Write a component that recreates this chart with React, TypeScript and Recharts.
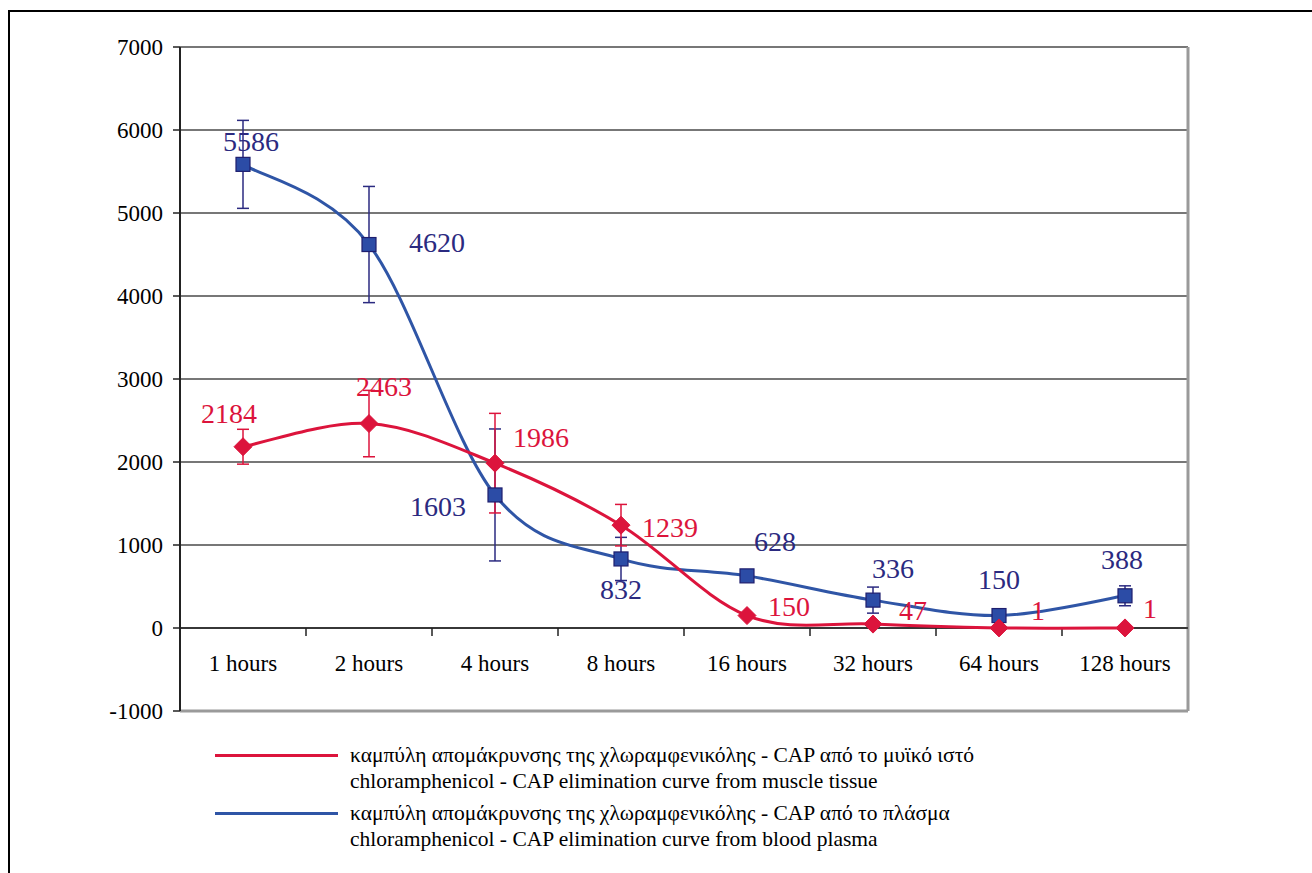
import React from 'react';
import {
  LineChart,
  Line,
  XAxis,
  YAxis,
  CartesianGrid,
  ErrorBar,
  ReferenceLine,
  ReferenceDot,
  LabelList,
} from 'recharts';

// ---------- data ----------
const categories = ['1 hours', '2 hours', '4 hours', '8 hours', '16 hours', '32 hours', '64 hours', '128 hours'];
const muscleValues = [2184, 2463, 1986, 1239, 150, 47, 1, 1];
const muscleErrors = [210, 400, 600, 250, 0, 0, 0, 0];
const plasmaValues = [5586, 4620, 1603, 832, 628, 336, 150, 388];
const plasmaErrors = [530, 700, 795, 260, 0, 157, 0, 120];
const yTicks = [-1000, 0, 1000, 2000, 3000, 4000, 5000, 6000, 7000];
const muscleLegend = [
  'καμπύλη απομάκρυνσης της χλωραμφενικόλης - CAP από το μυϊκό ιστό',
  'chloramphenicol - CAP elimination curve from muscle tissue',
];
const plasmaLegend = [
  'καμπύλη απομάκρυνσης της χλωραμφενικόλης - CAP από το πλάσμα',
  'chloramphenicol - CAP elimination curve from blood plasma',
];

// ---------- styling ----------
const FONT = 'Liberation Serif, Times New Roman, Times, serif';
const RED = '#dc143c';
const BLUE_LINE = '#2f55a6';
const BLUE_TEXT = '#2b2a80';
const BLUE_FILL = '#2c4ca6';
const BLUE_EDGE = '#1e1e6e';

// label offsets (dx, dy) of each data label from its marker
const plasmaLabelOffsets: [number, number][] = [
  [8, -23], [68, -2], [-57, 12], [0, 31], [28, -34], [20, -32], [0, -36], [-3, -36],
];
const muscleLabelOffsets: [number, number][] = [
  [-14, -33], [15, -37], [46, -26], [49, 2], [42, -9], [40, -14], [39, -17], [25, -19],
];

const data = categories.map((c, i) => ({
  pos: i + 0.5,
  category: c,
  muscle: muscleValues[i],
  muscleErr: muscleErrors[i],
  plasma: plasmaValues[i],
  plasmaErr: plasmaErrors[i],
}));

// Excel-like smooth curve (Catmull-Rom through the points)
const smoothCurve: any = (context: any) => {
  let pts: [number, number][] = [];
  return {
    areaStart() {},
    areaEnd() {},
    lineStart() {
      pts = [];
    },
    point(x: number, y: number) {
      pts.push([+x, +y]);
    },
    lineEnd() {
      if (!pts.length) return;
      context.moveTo(pts[0][0], pts[0][1]);
      for (let i = 0; i < pts.length - 1; i++) {
        const p0 = pts[Math.max(i - 1, 0)];
        const p1 = pts[i];
        const p2 = pts[i + 1];
        const p3 = pts[Math.min(i + 2, pts.length - 1)];
        const c1x = p1[0] + (p2[0] - p0[0]) / 6;
        const c1y = p1[1] + (p2[1] - p0[1]) / 6;
        const c2x = p2[0] - (p3[0] - p1[0]) / 6;
        const c2y = p2[1] - (p3[1] - p1[1]) / 6;
        context.bezierCurveTo(c1x, c1y, c2x, c2y, p2[0], p2[1]);
      }
    },
  };
};

const SquareDot = (props: any) => {
  const { cx, cy, index } = props;
  if (cx == null || cy == null) return <g key={`sq${index}`} />;
  return (
    <rect
      key={`sq${index}`}
      x={cx - 7}
      y={cy - 7}
      width={14}
      height={14}
      fill={BLUE_FILL}
      stroke={BLUE_EDGE}
      strokeWidth={1.2}
    />
  );
};

const DiamondDot = (props: any) => {
  const { cx, cy, index } = props;
  if (cx == null || cy == null) return <g key={`dm${index}`} />;
  const r = 9;
  return (
    <polygon
      key={`dm${index}`}
      points={`${cx},${cy - r} ${cx + r},${cy} ${cx},${cy + r} ${cx - r},${cy}`}
      fill={RED}
      stroke={RED}
      strokeWidth={1}
    />
  );
};

const makeLabel = (offsets: [number, number][], color: string) => (props: any) => {
  const x = props.x ?? props.viewBox?.x;
  const y = props.y ?? props.viewBox?.y;
  const idx = props.index ?? 0;
  if (x == null || y == null) return null;
  const [dx, dy] = offsets[idx] || [0, 0];
  return (
    <text
      key={`lb${color}${idx}`}
      x={x + dx}
      y={y + dy}
      textAnchor="middle"
      dominantBaseline="central"
      fill={color}
      style={{ fontFamily: FONT, fontSize: 28 }}
    >
      {props.value}
    </text>
  );
};

const CategoryLabel = (label: string) => (p: any) => (
  <text
    x={p.cx}
    y={p.cy + 43}
    textAnchor="middle"
    fill="#000"
    style={{ fontFamily: FONT, fontSize: 23 }}
  >
    {label}
  </text>
);

const YTick = (p: any) => (
  <text
    x={p.x}
    y={p.y}
    textAnchor="end"
    dominantBaseline="central"
    fill="#000"
    style={{ fontFamily: FONT, fontSize: 23 }}
  >
    {p.payload?.value}
  </text>
);

const boundaries = [1, 2, 3, 4, 5, 6, 7];

export default function App() {
  return (
    <div
      style={{
        position: 'absolute',
        left: 8,
        top: 10,
        width: 1304,
        height: 863,
        borderLeft: '2px solid #000',
        borderTop: '2px solid #000',
        boxSizing: 'border-box',
        background: '#fff',
        fontFamily: FONT,
      }}
    >
      <div style={{ position: 'absolute', left: 0, top: 0 }}>
        <LineChart
          width={1200}
          height={720}
          data={data}
          margin={{ top: 35, right: 22, left: 10, bottom: 21 }}
          style={{ fontFamily: FONT }}
        >
          <CartesianGrid vertical={false} stroke="#4a4a4a" strokeWidth={1.5} />
          <XAxis type="number" dataKey="pos" domain={[0, 8]} hide />
          <YAxis
            type="number"
            domain={[-1000, 7000]}
            ticks={yTicks}
            interval={0}
            width={160}
            tickSize={7}
            tickMargin={10}
            axisLine={{ stroke: '#222', strokeWidth: 2 }}
            tickLine={{ stroke: '#222', strokeWidth: 1.5 }}
            tick={YTick}
          />
          <ReferenceLine x={8} stroke="#9a9a9a" strokeWidth={3} />
          <ReferenceLine y={-1000} stroke="#9a9a9a" strokeWidth={3} />
          <ReferenceLine y={0} stroke="#222" strokeWidth={1.5} />
          {boundaries.map((b) => (
            <ReferenceLine
              key={`tk${b}`}
              segment={[
                { x: b, y: 0 },
                { x: b, y: -95 },
              ]}
              stroke="#222"
              strokeWidth={1.5}
            />
          ))}
          {data.map((d) => (
            <ReferenceDot
              key={`cat${d.category}`}
              x={d.pos}
              y={0}
              r={0}
              shape={CategoryLabel(d.category)}
            />
          ))}
          <Line
            dataKey="plasma"
            type={smoothCurve}
            stroke={BLUE_LINE}
            strokeWidth={3}
            dot={SquareDot}
            activeDot={false}
            isAnimationActive={false}
          >
            <ErrorBar dataKey="plasmaErr" direction="y" width={6} stroke={BLUE_TEXT} strokeWidth={1.5} />
            <LabelList dataKey="plasma" content={makeLabel(plasmaLabelOffsets, BLUE_TEXT)} />
          </Line>
          <Line
            dataKey="muscle"
            type={smoothCurve}
            stroke={RED}
            strokeWidth={3}
            dot={DiamondDot}
            activeDot={false}
            isAnimationActive={false}
          >
            <ErrorBar dataKey="muscleErr" direction="y" width={6} stroke={RED} strokeWidth={1.5} />
            <LabelList dataKey="muscle" content={makeLabel(muscleLabelOffsets, RED)} />
          </Line>
        </LineChart>
      </div>
      {[
        { color: RED, lines: muscleLegend, y: 743 },
        { color: BLUE_LINE, lines: plasmaLegend, y: 801 },
      ].map((item) => (
        <div key={item.y}>
          <div
            style={{
              position: 'absolute',
              left: 205,
              top: item.y - 1.5,
              width: 123,
              height: 3,
              background: item.color,
            }}
          />
          <div
            style={{
              position: 'absolute',
              left: 340,
              top: item.y - 13,
              fontSize: 21.5,
              lineHeight: '26px',
              color: '#000',
              whiteSpace: 'nowrap',
              fontFamily: FONT,
            }}
          >
            {item.lines.map((l) => (
              <div key={l}>{l}</div>
            ))}
          </div>
        </div>
      ))}
    </div>
  );
}
